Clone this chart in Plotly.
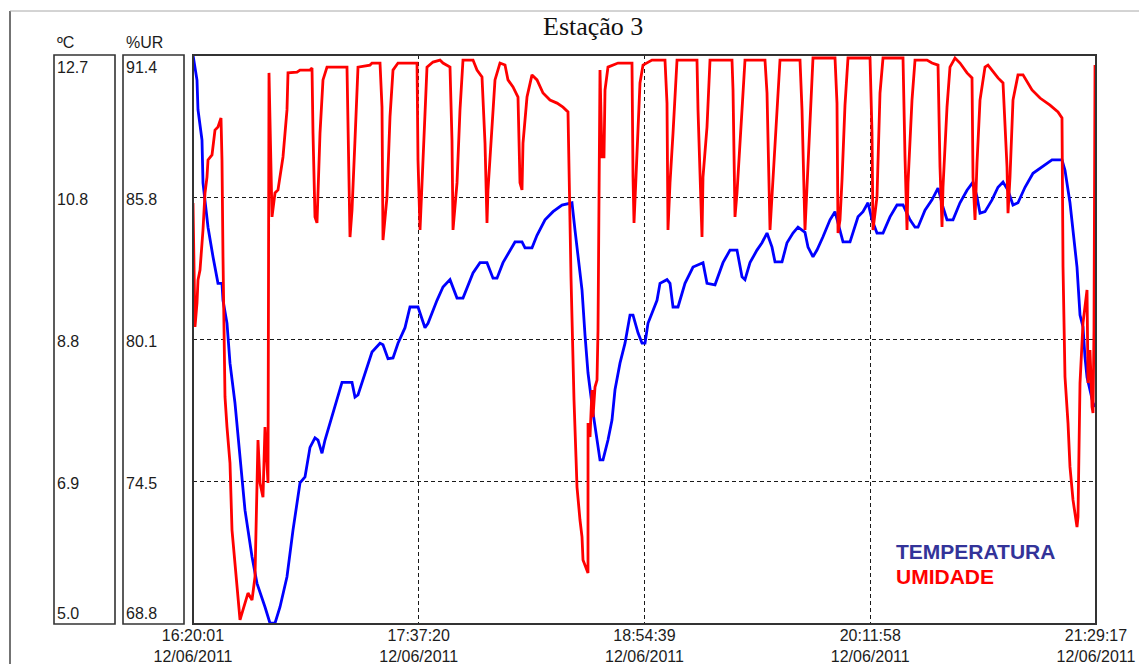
import plotly.graph_objects as go
from datetime import datetime, timedelta

# ---------------- data ----------------
START = datetime(2011, 6, 12, 16, 20, 1)
END = datetime(2011, 6, 12, 21, 29, 17)

# elapsed minutes since 16:20:01 and temperature (degC)
temp_min = [0, 1.37, 1.71, 3.08, 3.42, 4.11, 5.14, 6.85, 8.56, 9.93, 10.27, 11.64, 12.33, 12.67,
            14.38, 16.10, 17.81, 20.21, 21.92, 24.66, 26.37, 28.08, 29.80, 32.19, 34.25, 36.65,
            38.36, 40.07, 41.78, 42.81, 44.18, 45.21, 46.92, 49.32, 51.03, 54.46, 55.48, 56.51,
            58.22, 61.31, 64.05, 65.07, 66.79, 68.50, 70.21, 72.61, 74.32, 77.06, 79.45, 80.49,
            83.57, 85.62, 88.02, 90.42, 92.47, 95.90, 98.29, 100.69, 102.75, 104.12, 106.17,
            108.57, 110.28, 112.68, 113.71, 116.10, 117.82, 120.56, 123.30, 126.38, 129.80,
            130.83, 131.86, 133.23, 134.26, 135.28, 137.00, 138.37, 139.39, 140.42, 142.13,
            143.50, 144.53, 146.24, 147.96, 149.67, 150.70, 152.41, 153.78, 154.81, 155.83,
            158.92, 159.94, 162.34, 163.37, 164.40, 166.11, 168.50, 171.25, 174.67, 176.04,
            178.78, 181.52, 183.92, 186.31, 188.03, 189.05, 190.77, 193.16, 194.88, 196.59,
            198.30, 199.33, 201.73, 203.44, 205.49, 207.21, 209.60, 210.63, 212.34, 213.71,
            215.77, 218.17, 219.88, 221.59, 222.62, 225.02, 227.76, 229.47, 231.18, 232.55,
            234.26, 236.32, 238.72, 241.11, 243.17, 245.57, 247.28, 248.31, 250.70, 253.10,
            255.16, 256.87, 258.24, 260.29, 262.69, 265.09, 267.14, 268.51, 269.54, 271.25,
            273.65, 275.70, 277.42, 279.13, 280.84, 282.55, 284.95, 287.69, 290.09, 294.20,
            297.62, 298.65, 300.36, 301.39, 302.76, 303.79, 304.82, 305.50, 306.19, 308.24, 308.93]
temp_c = [12.70, 12.36, 11.96, 11.55, 10.97, 10.74, 10.37, 9.97, 9.61, 9.61, 9.38, 9.07, 8.71, 8.53,
          7.99, 7.31, 6.54, 5.91, 5.55, 5.23, 5.01, 5.01, 5.23, 5.64, 6.27, 6.91,
          6.99, 7.39, 7.52, 7.49, 7.31, 7.49, 7.72, 8.03, 8.27, 8.27, 8.07, 8.10,
          8.30, 8.68, 8.80, 8.78, 8.59, 8.60, 8.80, 9.01, 9.29, 9.29, 9.01, 9.07,
          9.38, 9.56, 9.66, 9.41, 9.41, 9.75, 9.89, 9.89, 9.68, 9.68, 9.89,
          10.06, 10.17, 10.17, 10.09, 10.09, 10.26, 10.47, 10.58, 10.67, 10.70,
          10.33, 9.97, 9.52, 8.91, 8.40, 7.86, 7.49, 7.22, 7.22, 7.49,
          7.76, 8.17, 8.53, 8.80, 9.18, 9.18, 8.94, 8.80, 8.80, 9.07,
          9.38, 9.61, 9.66, 9.61, 9.29, 9.29, 9.61, 9.83, 9.89, 9.61,
          9.59, 9.89, 10.06, 10.06, 9.70, 9.66, 9.89, 10.06, 10.16, 10.29,
          10.10, 9.90, 9.90, 10.16, 10.29, 10.37, 10.30, 10.10, 9.97, 10.06,
          10.24, 10.47, 10.58, 10.33, 10.17, 10.17, 10.51, 10.58, 10.70, 10.47,
          10.29, 10.29, 10.51, 10.67, 10.67, 10.47, 10.37, 10.37, 10.60, 10.74,
          10.90, 10.64, 10.47, 10.47, 10.70, 10.87, 10.98, 10.78, 10.56, 10.58,
          10.74, 10.91, 10.98, 10.87, 10.67, 10.70, 10.91, 11.10, 11.17, 11.28,
          11.28, 11.14, 10.70, 10.29, 9.83, 9.18, 9.02, 8.61, 8.34, 7.99, 7.94]

# elapsed minutes since 16:20:01 and relative humidity (%)
hum_min = [0, 0.68, 1.37, 1.71, 2.40, 3.08, 3.42, 4.11, 4.79, 5.14, 6.51, 7.53, 8.56, 9.59, 9.93,
           10.27, 10.96, 11.64, 12.67, 13.36, 14.38, 15.07, 16.10, 17.12, 18.84, 20.21, 21.23,
           22.26, 22.95, 23.97, 24.66, 25.69, 26.03, 27.06, 28.08, 29.11, 30.82, 32.19, 32.54,
           35.62, 36.65, 40.07, 40.76, 41.10, 41.78, 42.47, 42.81, 43.50, 44.52, 45.89, 52.74,
           53.09, 53.77, 54.46, 54.80, 55.48, 56.51, 60.62, 61.31, 64.05, 64.73, 65.07, 66.44,
           67.47, 68.50, 70.21, 76.72, 77.06, 77.75, 78.77, 80.14, 82.20, 84.60, 85.62, 88.02,
           88.70, 89.05, 90.42, 91.44, 92.47, 95.90, 97.27, 98.98, 100.01, 100.69, 101.03,
           102.40, 103.43, 105.14, 106.86, 107.88, 109.60, 111.31, 111.99, 112.68, 113.02,
           114.39, 116.10, 117.82, 119.87, 122.27, 124.67, 126.72, 128.43, 129.46, 130.15,
           130.49, 131.17, 131.52, 132.54, 133.23, 133.57, 134.94, 135.28, 135.30, 135.97,
           136.65, 137.00, 137.68, 138.37, 138.71, 139.05, 139.39, 140.08, 140.76, 141.11,
           142.13, 145.56, 150.35, 150.70, 151.04, 151.72, 152.41, 153.09, 154.12, 157.20,
           161.65, 162.34, 162.68, 163.37, 164.40, 165.77, 172.61, 172.96, 174.33, 174.67,
           176.04, 177.07, 184.60, 184.95, 185.63, 186.31, 188.03, 189.05, 195.90, 196.59,
           197.62, 198.64, 200.02, 201.04, 207.89, 208.58, 209.60, 210.63, 211.32, 212.34,
           219.88, 220.56, 220.91, 221.59, 222.28, 223.30, 224.33, 231.87, 232.55, 232.89,
           234.26, 235.29, 236.32, 243.17, 243.85, 244.54, 244.88, 246.25, 247.28, 251.39,
           253.10, 255.16, 255.84, 256.53, 256.87, 258.24, 259.26, 260.98, 262.69, 265.09,
           266.80, 267.14, 267.83, 268.51, 269.54, 271.25, 272.28, 273.99, 275.70, 277.42,
           278.79, 279.13, 279.81, 280.84, 282.55, 284.27, 285.64, 287.35, 290.09, 293.51,
           296.25, 297.62, 297.97, 298.65, 299.68, 300.36, 301.39, 302.76, 303.10, 303.79,
           304.82, 306.19, 306.53, 307.21, 307.90, 308.24, 308.58, 308.93]
hum_pct = [85.52, 80.60, 81.55, 82.46, 82.86, 83.77, 84.45, 85.92, 86.55, 87.23, 87.43, 88.42, 88.54, 88.90, 87.23,
           83.38, 77.82, 76.62, 75.19, 72.53, 71.22, 70.15, 68.96, 69.36, 70.03, 69.75, 70.67,
           76.11, 74.40, 73.84, 76.62, 74.40, 90.69, 84.97, 85.92, 86.04, 87.35, 89.22, 90.69,
           90.72, 90.80, 90.80, 90.88, 88.30, 84.97, 84.73, 85.76, 88.30, 90.41, 90.92, 90.92,
           88.02, 84.17, 85.24, 86.44, 88.02, 90.92, 91.00, 91.08, 91.08, 89.33, 84.05, 85.76,
           88.94, 90.80, 91.08, 91.08, 87.23, 84.45, 86.95, 90.92, 91.12, 91.20, 91.08, 90.92,
           88.02, 84.45, 86.32, 89.22, 91.20, 91.20, 90.80, 90.53, 87.90, 84.73, 86.04,
           88.70, 90.41, 91.08, 91.00, 90.41, 90.13, 89.73, 86.32, 86.04, 87.90,
           89.73, 90.61, 90.41, 89.89, 89.61, 89.49, 89.33, 89.14, 82.58, 79.17,
           77.70, 75.43, 74.24, 72.93, 72.26, 71.34, 70.94, 70.83, 76.78, 76.23,
           78.09, 77.02, 78.21, 78.49, 80.48, 87.35, 90.80, 87.35, 87.35, 90.01,
           90.92, 91.08, 91.08, 86.55, 84.73, 86.55, 88.30, 90.29, 91.00, 91.20,
           91.20, 89.49, 84.45, 86.32, 88.30, 91.20, 91.20, 89.22, 84.17, 86.55,
           88.54, 91.20, 91.20, 90.01, 84.97, 85.92, 89.22, 91.20, 91.20, 89.89,
           84.45, 86.55, 89.22, 91.20, 91.20, 89.22, 84.45, 86.95, 88.94, 91.28,
           91.28, 89.49, 84.33, 84.85, 86.44, 89.41, 91.28, 91.28, 88.30, 84.45,
           85.76, 89.89, 91.28, 91.28, 87.35, 84.45, 86.32, 89.61, 91.20, 91.20,
           91.08, 91.00, 86.95, 84.57, 86.16, 89.33, 90.92, 91.28, 91.08, 90.69,
           90.49, 86.55, 84.85, 87.11, 89.61, 90.92, 91.00, 90.72, 90.49, 90.29,
           86.95, 85.12, 86.55, 89.61, 90.61, 90.61, 90.33, 90.01, 89.69, 89.41,
           89.14, 88.90, 82.98, 78.61, 76.78, 75.04, 73.73, 72.65, 73.05, 78.37,
           80.76, 82.07, 78.37, 79.68, 77.42, 77.18, 80.48, 91.00]

temp_range = [5.0, 12.7]
hum_range = [68.8, 91.4]
temp_tick_labels = ["12.7", "10.8", "8.8", "6.9", "5.0"]
hum_tick_labels = ["91.4", "85.8", "80.1", "74.5", "68.8"]
x_tick_times = ["16:20:01", "17:37:20", "18:54:39", "20:11:58", "21:29:17"]
x_tick_date = "12/06/2011"
title_text = "Estação 3"
temp_unit = "ºC"
hum_unit = "%UR"
temp_name = "TEMPERATURA"
hum_name = "UMIDADE"

# ---------------- layout helpers ----------------
W, H = 1139, 664
def px(x):
    return x / W
def py(y):
    return 1 - y / H

PL, PR, PT, PB = 193, 1096, 55, 624
TICK_FONT = dict(family="Liberation Sans, Arial, sans-serif", size=16, color="#1c1c1c")
GRID = "#1a1a1a"

t_x = [START + timedelta(minutes=m) for m in temp_min]
h_x = [START + timedelta(minutes=m) for m in hum_min]

def quarter_ticks(lo, hi):
    return [hi - i * (hi - lo) / 4 for i in range(5)]

temp_ticks = quarter_ticks(*temp_range)
hum_ticks = quarter_ticks(*hum_range)
x_ticks = [datetime.strptime("2011-06-12 " + t, "%Y-%m-%d %H:%M:%S") for t in x_tick_times]

fig = go.Figure()
fig.add_trace(go.Scatter(x=t_x, y=temp_c, mode="lines", name=temp_name,
                         line=dict(color="#0000ff", width=2.8), yaxis="y", hoverinfo="skip"))
fig.add_trace(go.Scatter(x=h_x, y=hum_pct, mode="lines", name=hum_name,
                         line=dict(color="#ff0000", width=2.8), yaxis="y2", hoverinfo="skip"))

fig.update_layout(
    width=W, height=H, autosize=False,
    margin=dict(l=0, r=0, t=0, b=0, pad=0, autoexpand=False),
    paper_bgcolor="white", plot_bgcolor="white", showlegend=False,
    xaxis=dict(domain=[px(PL), px(PR)], type="date", range=[START, END], automargin=False,
               tickvals=x_ticks, ticktext=[f"{t}<br>{x_tick_date}" for t in x_tick_times],
               tickfont=TICK_FONT, ticks="", showline=False, zeroline=False,
               showgrid=True, gridcolor=GRID, gridwidth=1, griddash="4px,3px"),
    yaxis=dict(domain=[py(PB), py(PT)], range=temp_range, tickvals=temp_ticks[1:4], automargin=False,
               showticklabels=False, ticks="", showline=False, zeroline=False,
               showgrid=True, gridcolor=GRID, gridwidth=1, griddash="4px,3px"),
    yaxis2=dict(domain=[py(PB), py(PT)], range=hum_range, overlaying="y", anchor="x", automargin=False,
                showticklabels=False, ticks="", showline=False, zeroline=False, showgrid=False),
)

shapes = []
# plot frame
shapes.append(dict(type="rect", xref="paper", yref="paper", x0=px(PL), x1=px(PR), y0=py(PB), y1=py(PT),
                   line=dict(color="#333333", width=2)))
# scale boxes
for bx0, bx1 in [(54, 115), (123, 184)]:
    shapes.append(dict(type="rect", xref="paper", yref="paper", x0=px(bx0), x1=px(bx1), y0=py(PB), y1=py(PT),
                       line=dict(color="#333333", width=1.6)))
# outer frame
shapes.append(dict(type="line", xref="paper", yref="paper", x0=px(10), x1=px(10), y0=py(11), y1=0,
                   line=dict(color="#444444", width=1.5)))
shapes.append(dict(type="line", xref="paper", yref="paper", x0=px(10), x1=1, y0=py(11), y1=py(11),
                   line=dict(color="#a8a8a8", width=1)))
fig.update_layout(shapes=shapes)

ann = []
ann.append(dict(text=title_text, xref="paper", yref="paper", x=px(593), y=py(26), showarrow=False,
                xanchor="center", yanchor="middle",
                font=dict(family="Liberation Serif, Times New Roman, serif", size=26, color="#111111")))
ann.append(dict(text=temp_unit, xref="paper", yref="paper", x=px(55), y=py(42), showarrow=False,
                xanchor="left", yanchor="middle", font=TICK_FONT))
ann.append(dict(text=hum_unit, xref="paper", yref="paper", x=px(124), y=py(42), showarrow=False,
                xanchor="left", yanchor="middle", font=TICK_FONT))

def side_labels(values, labels, yref, xpos):
    out = []
    n = len(values)
    for i, (v, lab) in enumerate(zip(values, labels)):
        if i == 0:
            ya, ys = "top", -2
        elif i == n - 1:
            ya, ys = "bottom", 0
        else:
            ya, ys = "middle", -2
        out.append(dict(text=lab, xref="paper", yref=yref, x=px(xpos), y=v, showarrow=False,
                        xanchor="left", yanchor=ya, yshift=ys, font=TICK_FONT))
    return out

ann += side_labels(temp_ticks, temp_tick_labels, "y", 55)
ann += side_labels(hum_ticks, hum_tick_labels, "y2", 124)

ann.append(dict(text=f"<b>{temp_name}</b>", xref="paper", yref="paper", x=px(894), y=py(551), showarrow=False,
                xanchor="left", yanchor="middle",
                font=dict(family="Liberation Sans, Arial, sans-serif", size=21, color="#333399")))
ann.append(dict(text=f"<b>{hum_name}</b>", xref="paper", yref="paper", x=px(894), y=py(576), showarrow=False,
                xanchor="left", yanchor="middle",
                font=dict(family="Liberation Sans, Arial, sans-serif", size=21, color="#ff0000")))
fig.update_layout(annotations=ann)

fig.write_html("out.html")
